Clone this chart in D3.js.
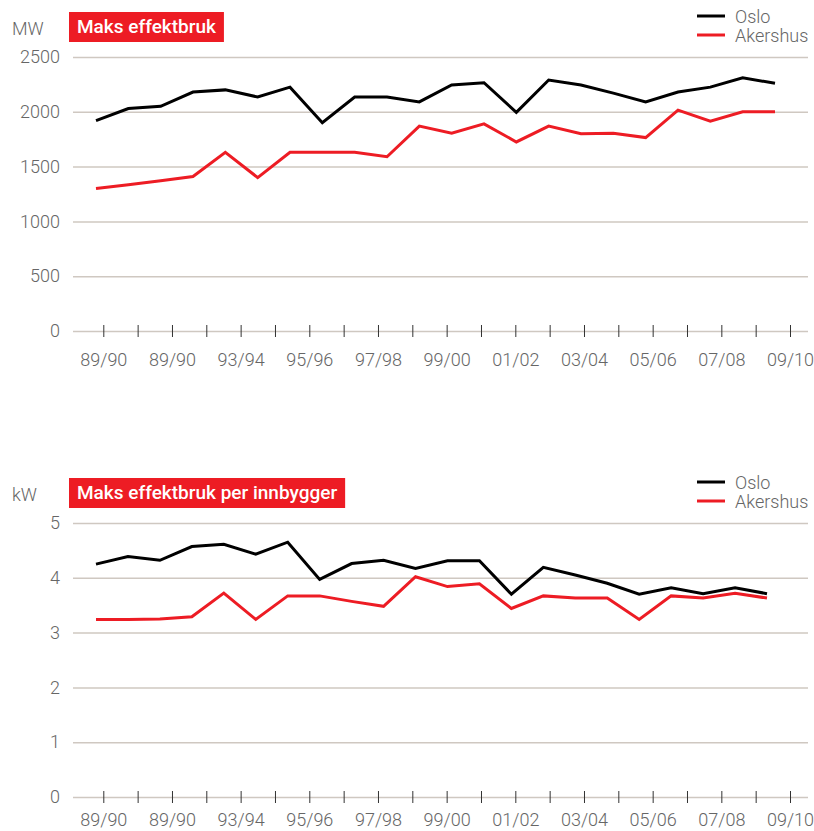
<!DOCTYPE html>
<html>
<head>
<meta charset="utf-8">
<script src="https://cdn.jsdelivr.net/npm/d3@7"></script>
<style>
    body { margin: 0; background: #fff; }
    text { font-family: Roboto, "Liberation Sans", sans-serif; }
</style>
</head>
<body>
<svg id="chart" width="814" height="831"></svg>
<script>
    // tick labels (every second tick has a label, the double 89/90 is in the original)
    var seasonLabels = ["89/90", "89/90", "93/94", "95/96", "97/98", "99/00",
                        "01/02", "03/04", "05/06", "07/08", "09/10"];
    var tickCount = 21;

    // Maks effektbruk, MW
    var osloMW     = [1920, 2030, 2050, 2180, 2200, 2135, 2225, 1900, 2135, 2135, 2090,
                      2245, 2265, 1995, 2290, 2245, 2170, 2090, 2180, 2225, 2310, 2260];
    var akershusMW = [1300, 1335, 1370, 1410, 1630, 1400, 1630, 1630, 1630, 1590, 1870,
                      1805, 1890, 1725, 1870, 1800, 1805, 1765, 2015, 1915, 2000, 2000];
    var ticksMW    = [0, 500, 1000, 1500, 2000, 2500];

    // Maks effektbruk per innbygger, kW
    var osloKW     = [4.25, 4.39, 4.32, 4.57, 4.61, 4.43, 4.65, 3.97, 4.26, 4.32, 4.17,
                      4.31, 4.31, 3.70, 4.19, 4.05, 3.90, 3.70, 3.82, 3.71, 3.82, 3.71];
    var akershusKW = [3.24, 3.24, 3.25, 3.29, 3.72, 3.24, 3.67, 3.67, 3.57, 3.48, 4.02,
                      3.84, 3.89, 3.44, 3.67, 3.63, 3.63, 3.24, 3.67, 3.63, 3.72, 3.63];
    var ticksKW    = [0, 1, 2, 3, 4, 5];

    var seriesNames = ["Oslo", "Akershus"];
    var seriesColors = ["#000000", "#ed1c24"];

    var svg = d3.select("#chart");

    function drawChart(top, title, unit, oslo, akershus, yTicks, lastX, labelPad)
    {
        var g = svg.append("g").attr("transform", "translate(0," + top + ")");

        var y = d3.scaleLinear()
            .domain([0, d3.max(yTicks)])
            .range([331, 57]);

        var x = d3.scaleLinear()
            .domain([0, oslo.length - 1])
            .range([96, lastX]);

        var xTick = d3.scaleLinear()
            .domain([0, tickCount - 1])
            .range([103.3, 790]);

        // grid + y labels
        var yAxis = g.append("g")
            .attr("transform", "translate(73,0)")
            .call(d3.axisLeft(y).tickValues(yTicks).tickSize(-735).tickPadding(13)
                .tickFormat(d3.format("d")));
        yAxis.select(".domain").remove();
        yAxis.selectAll("line").attr("stroke", "#cfc8c1").attr("stroke-width", 1.5);
        yAxis.selectAll("text")
            .attr("fill", "#666")
            .style("font-size", "18px")
            .style("font-weight", 300);

        // x ticks across the base line
        var xAxis = g.append("g")
            .attr("transform", "translate(0," + y(0) + ")")
            .call(d3.axisBottom(xTick)
                .tickValues(d3.range(tickCount))
                .tickSize(6)
                .tickPadding(labelPad)
                .tickFormat(function(d) { return d % 2 == 0 ? seasonLabels[d / 2] : ""; }));
        xAxis.select(".domain").remove();
        xAxis.selectAll("line").attr("y1", -6).attr("y2", 6).attr("stroke", "#333");
        xAxis.selectAll("text")
            .attr("fill", "#666")
            .style("font-size", "18px")
            .style("font-weight", 300);

        var line = d3.line()
            .x(function(d, i) { return x(i); })
            .y(function(d) { return y(d); });

        [akershus, oslo].forEach(function(s, k) {
            g.append("path")
                .datum(s)
                .attr("fill", "none")
                .attr("stroke", seriesColors[1 - k])
                .attr("stroke-width", 3)
                .attr("stroke-linejoin", "miter")
                .attr("d", line);
        });

        // unit
        g.append("text")
            .attr("x", 12)
            .attr("y", 35)
            .attr("fill", "#666")
            .style("font-size", "18px")
            .style("font-weight", 300)
            .text(unit);

        // title box
        var box = g.append("rect")
            .attr("x", 69)
            .attr("y", 12)
            .attr("height", 30)
            .attr("fill", "#ed1c24");
        var t = g.append("text")
            .attr("x", 77)
            .attr("y", 33)
            .attr("fill", "#fff")
            .style("font-size", "19px")
            .style("font-weight", 500)
            .text(title);
        box.attr("width", t.node().getComputedTextLength() + 16);

        // legend
        seriesNames.forEach(function(name, i) {
            var ly = 16 + i * 19;
            g.append("line")
                .attr("x1", 697).attr("x2", 725)
                .attr("y1", ly).attr("y2", ly)
                .attr("stroke", seriesColors[i])
                .attr("stroke-width", 3);
            g.append("text")
                .attr("x", 735)
                .attr("y", ly + 7)
                .attr("fill", "#666")
                .style("font-size", "18px")
                .style("font-weight", 300)
                .text(name);
        });
    }

    drawChart(0, "Maks effektbruk", "MW", osloMW, akershusMW, ticksMW, 775, 16);
    drawChart(466, "Maks effektbruk per innbygger", "kW", osloKW, akershusKW, ticksKW, 767, 10);
</script>
</body>
</html>
